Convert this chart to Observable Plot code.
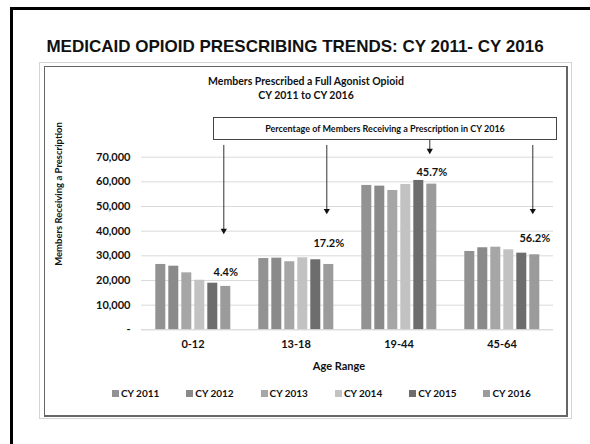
<!DOCTYPE html>
<html>
<head>
<meta charset="utf-8">
<script src="https://cdn.jsdelivr.net/npm/d3@7"></script>
<script src="https://cdn.jsdelivr.net/npm/@observablehq/plot@0.6"></script>
<style>
  html, body { margin: 0; padding: 0; background: #fff; }
  body { width: 590px; height: 444px; overflow: hidden; position: relative; font-family: Lato, "Open Sans", sans-serif; color: #111; }
  .abs { position: absolute; }
  #outer { left: 10px; top: 7px; width: 700px; height: 600px; border: 3px solid #000; box-sizing: border-box; }
  #title { left: 0; width: 590px; top: 37px; text-align: center; font: bold 17px "Liberation Sans", Arial, sans-serif; white-space: nowrap; line-height: 20px; }
  #frameLight { left: 39px; top: 62px; width: 533px; height: 357px; border: 1px solid #d4d4d4; box-sizing: border-box; }
  #frameDark { left: 44px; top: 66px; width: 524px; height: 351px; border: 1.5px solid #666; border-right-width: 2px; border-bottom-width: 2px; box-sizing: border-box; }
  .ctitle { left: 206px; width: 200px; text-align: center; font-weight: bold; font-size: 10.5px; white-space: nowrap; line-height: 12px; }
  #box { left: 213px; top: 117px; width: 344px; height: 23px; border: 1px solid #444; box-sizing: border-box; text-align: center; font-weight: bold; font-size: 9px; line-height: 21px; white-space: nowrap; background: #fff; }
  #ytitle { left: 58px; top: 194px; transform: translate(-50%, -50%) rotate(-90deg); font-weight: bold; font-size: 9.5px; white-space: nowrap; }
  #xtitle { left: 339px; top: 365px; transform: translate(-50%, -50%); font-weight: bold; font-size: 11px; white-space: nowrap; }
  #legend { left: 112px; top: 386px; height: 14px; display: flex; }
  .item { width: 74.3px; display: flex; align-items: center; font-weight: bold; font-size: 10px; white-space: nowrap; }
  .sw { width: 7px; height: 7px; margin-right: 2px; }
  #chart { left: 0; top: 0; width: 590px; height: 444px; }
  #chart svg { max-width: none; }
</style>
</head>
<body>
<div id="outer" class="abs"></div>
<div id="title" class="abs">MEDICAID OPIOID PRESCRIBING TRENDS: CY 2011- CY 2016</div>
<div id="frameLight" class="abs"></div>
<div id="frameDark" class="abs"></div>
<div class="abs ctitle" style="top:75px">Members Prescribed a Full Agonist Opioid</div>
<div class="abs ctitle" style="top:89px">CY 2011 to CY 2016</div>
<div id="box" class="abs">Percentage of Members Receiving a Prescription in CY 2016</div>
<div id="ytitle" class="abs">Members Receiving a Prescription</div>
<div id="xtitle" class="abs">Age Range</div>
<div id="legend" class="abs"></div>
<div id="chart" class="abs"></div>
<script>
// ---- data ----
const groups = ["0-12", "13-18", "19-44", "45-64"];
const years = ["CY 2011", "CY 2012", "CY 2013", "CY 2014", "CY 2015", "CY 2016"];
const cy2011 = [26500, 28900, 58550, 31770];
const cy2012 = [25800, 29050, 58270, 33270];
const cy2013 = [23100, 27600, 56500, 33500];
const cy2014 = [20100, 29200, 58950, 32450];
const cy2015 = [18900, 28400, 60570, 31080];
const cy2016 = [17600, 26500, 59080, 30430];
const barColors = ["#929292", "#8a8a8a", "#a6a6a6", "#c2c2c2", "#6d6d6d", "#9b9b9b"];
const pct2016 = [4.4, 17.2, 45.7, 56.2];
const pctLabelY = [23370, 35000, 63940, 37040];
const arrowTop = [74770, 74770, 76800, 74770];
const arrowTip = [39600, 47700, 72050, 47700];
const yTicks = [0, 10000, 20000, 30000, 40000, 50000, 60000, 70000];

// ---- tables ----
const series = [cy2011, cy2012, cy2013, cy2014, cy2015, cy2016];
const table = [];
years.forEach((yr, i) => groups.forEach((g, j) => table.push({group: g, year: yr, value: series[i][j]})));
const lastYear = years[years.length - 1];
const notes = groups.map((g, j) => ({
  group: g, year: lastYear, label: pct2016[j].toFixed(1) + "%",
  ly: pctLabelY[j], top: arrowTop[j], tip: arrowTip[j]
}));

const chart = Plot.plot({
  width: 590,
  height: 444,
  marginLeft: 140.7,
  marginRight: 36.3,
  marginTop: 156.7,
  marginBottom: 114.7,
  style: {background: "transparent", fontFamily: "Lato, sans-serif", fontWeight: "bold", fontSize: "9px", color: "#111", overflow: "visible"},
  fx: {domain: groups, padding: 0, label: null, tickSize: 0, tickPadding: 10, axis: "bottom"},
  x: {domain: years, axis: null, paddingInner: 0.23, paddingOuter: 0.86},
  y: {domain: [0, 70000], ticks: yTicks, tickFormat: d => d === 0 ? "-" : d3.format(",")(d), tickSize: 0, tickPadding: 11, label: null},
  color: {domain: years, range: barColors},
  marks: [
    Plot.ruleY(yTicks.filter(d => d > 0), {stroke: "#dadada", strokeWidth: 1}),
    Plot.barY(table, {fx: "group", x: "year", y: "value", fill: "year"}),
    Plot.ruleY([0], {stroke: "#cccccc", strokeWidth: 1}),
    Plot.text(notes, {fx: "group", x: "year", y: "ly", text: "label", fontSize: 11, fontWeight: "bold", fill: "#111"}),
    Plot.ruleX(notes, {fx: "group", x: "year", y1: "top", y2: "tip", stroke: "#333", strokeWidth: 1, dx: -2}),
    Plot.dot(notes, {fx: "group", x: "year", y: "tip", symbol: "triangle", rotate: 180, r: 2.3, fill: "#111", stroke: "none", dx: -2, dy: -1.5})
  ]
});
chart.style.position = "absolute";
chart.style.left = "0px";
chart.style.top = "0px";
document.getElementById("chart").appendChild(chart);

d3.select(chart).selectAll('[aria-label^="y-axis"] text').style("font-size", "11px");
d3.select(chart).selectAll('[aria-label^="fx-axis"] text').style("font-size", "11px");

// ---- legend ----
const legend = d3.select("#legend");
years.forEach((yr, i) => {
  const it = legend.append("div").attr("class", "item");
  it.append("div").attr("class", "sw").style("background", barColors[i]);
  it.append("span").text(yr);
});
</script>
</body>
</html>
